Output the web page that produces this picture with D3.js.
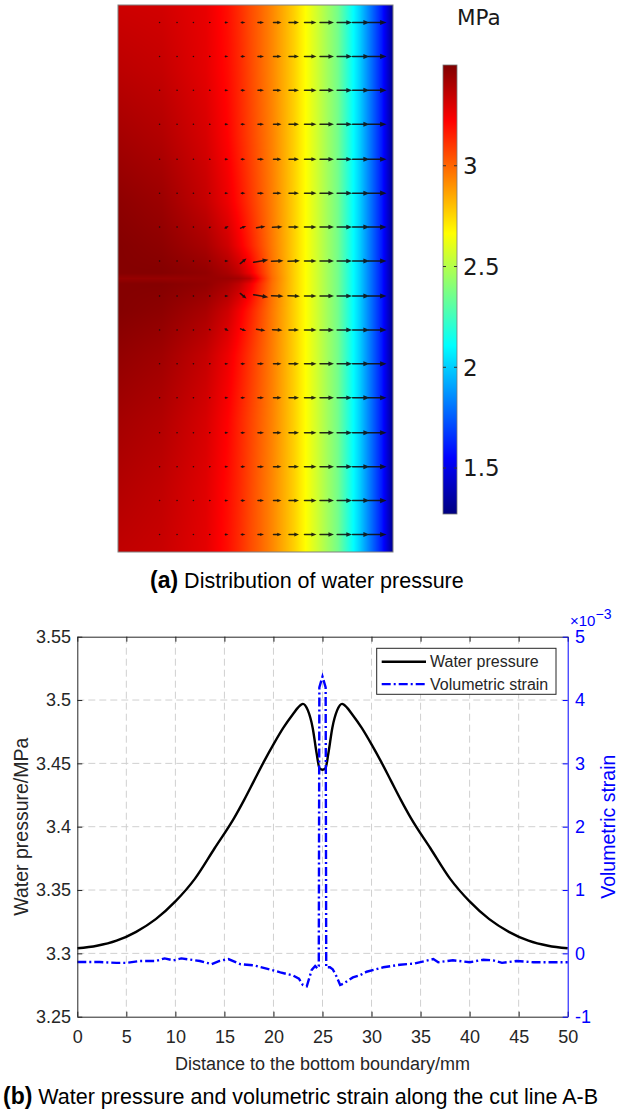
<!DOCTYPE html>
<html>
<head>
<meta charset="utf-8">
<script src="https://cdn.jsdelivr.net/npm/d3@7"></script>
<style>
  body { margin: 0; background: #fff; }
  svg { display: block; }
  text { font-family: "Liberation Sans", Arial, sans-serif; }
</style>
</head>
<body>
<div id="chart"></div>
<script>
// ---------- (a) pressure field, MPa ----------
// columns: mm from the left edge, rows: mm from the top edge
const fieldX = [0, 4, 8, 10, 11, 12, 13, 14, 16, 18, 20, 22, 23, 24, 25];
const fieldY = [0, 6, 12, 18, 22, 24.5, 25, 25.5, 28, 32, 38, 44, 50];
const fieldTail = [2.77, 2.57, 2.36, 2.00, 1.80, 1.60, 1.30];
const fieldP = [
  [3.33, 3.32, 3.27, 3.19, 3.13, 3.06, 3.00, 2.93, ...fieldTail],
  [3.37, 3.35, 3.28, 3.20, 3.14, 3.07, 3.00, 2.93, ...fieldTail],
  [3.42, 3.39, 3.31, 3.22, 3.15, 3.08, 3.01, 2.94, ...fieldTail],
  [3.47, 3.44, 3.35, 3.26, 3.19, 3.11, 3.03, 2.95, ...fieldTail],
  [3.49, 3.47, 3.41, 3.33, 3.25, 3.16, 3.06, 2.96, ...fieldTail],
  [3.49, 3.49, 3.46, 3.41, 3.36, 3.26, 3.12, 2.98, ...fieldTail],
  [3.45, 3.45, 3.45, 3.44, 3.42, 3.36, 3.16, 2.99, ...fieldTail],
  [3.49, 3.49, 3.46, 3.41, 3.36, 3.26, 3.12, 2.98, ...fieldTail],
  [3.49, 3.47, 3.41, 3.33, 3.25, 3.16, 3.06, 2.96, ...fieldTail],
  [3.46, 3.43, 3.35, 3.26, 3.19, 3.11, 3.03, 2.95, ...fieldTail],
  [3.42, 3.39, 3.31, 3.22, 3.15, 3.08, 3.01, 2.94, ...fieldTail],
  [3.39, 3.36, 3.29, 3.20, 3.14, 3.07, 3.00, 2.93, ...fieldTail],
  [3.36, 3.34, 3.28, 3.19, 3.13, 3.06, 3.00, 2.93, ...fieldTail]
];

// flow arrows (mm positions, length in px per column)
const arrowX = [0.8, 2.3, 3.8, 5.4, 6.9, 8.4, 9.9, 11.4, 13.0, 14.5, 16.0, 17.5, 19.0, 20.6, 22.1, 23.6];
const arrowY = [1.6, 4.7, 7.8, 10.9, 14.1, 17.2, 20.3, 23.4, 26.6, 29.7, 32.8, 35.9, 39.1, 42.2, 45.3, 48.4];
const arrowLen = [0, 0, 0.5, 0.8, 1, 1.5, 3, 4, 6, 8, 10, 12, 14, 15, 17, 18];
// [row, col, angle deg, length px] near the crack tip
const arrowBent = [
  [6, 5, 25, 2], [6, 6, 30, 4], [6, 7, 20, 6], [6, 8, 8, 9], [6, 9, 3, 10],
  [7, 7, 40, 8], [7, 8, 10, 15], [7, 9, 3, 12], [7, 10, 2, 12],
  [8, 7, -40, 8], [8, 8, -10, 15], [8, 9, -3, 12], [8, 10, -2, 12],
  [9, 5, -25, 2], [9, 6, -30, 4], [9, 7, -20, 6], [9, 8, -8, 9], [9, 9, -3, 10]
];

// colour bar (jet)
const cbMin = 1.272, cbMax = 3.5;
const cbTicks = [1.5, 2, 2.5, 3];
const jetStops = [0, 0.125, 0.375, 0.625, 0.875, 1];
const jetColors = [[0, 0, 128], [0, 0, 255], [0, 255, 255], [255, 255, 0], [255, 0, 0], [128, 0, 0]];

// ---------- (b) cut line A-B ----------
const distMM = [0, 2, 4, 6, 8, 10, 12, 14, 16, 17, 18, 19, 20, 21, 22, 22.5, 23, 23.5, 24, 24.4, 24.7, 25,
  25.3, 25.6, 26, 26.5, 27, 27.5, 28, 29, 30, 31, 32, 33, 34, 36, 38, 40, 42, 44, 46, 48, 50];
const pressure = [3.304, 3.306, 3.310, 3.317, 3.327, 3.341, 3.359, 3.383, 3.407, 3.421, 3.436, 3.451, 3.465, 3.478, 3.489, 3.494, 3.497, 3.492, 3.478, 3.458, 3.446, 3.445,
  3.446, 3.458, 3.478, 3.492, 3.497, 3.494, 3.489, 3.478, 3.465, 3.451, 3.436, 3.421, 3.407, 3.383, 3.359, 3.341, 3.327, 3.317, 3.310, 3.306, 3.304];

const strainX = [0, 2.3, 4.0, 5.0, 6.4, 8.0, 8.9, 9.8, 10.6, 12.5, 13.7, 14.5, 15.4, 16.6, 18.0, 19.3, 20.7, 22.0, 22.6, 23.0, 23.4, 23.9, 24.25, 24.5, 24.62,
  24.68, 25.0, 25.32, 25.38, 25.76, 26.04, 26.45, 26.8, 27.1, 27.8, 28.1, 28.75, 29.5, 31.2, 32.9, 34.4, 36.3, 36.8, 38.3, 40.0, 41.4, 42.4, 43.3, 44.8, 46.5, 48.5, 50];
const strain = [-0.137, -0.137, -0.15, -0.15, -0.12, -0.12, -0.08, -0.11, -0.08, -0.12, -0.17, -0.12, -0.09, -0.17, -0.19, -0.24, -0.30, -0.35, -0.40, -0.50, -0.52, -0.26, -0.20, -0.24, -0.20,
  4.20, 4.37, 4.20, -0.22, -0.22, -0.25, -0.37, -0.50, -0.48, -0.41, -0.38, -0.35, -0.29, -0.22, -0.18, -0.16, -0.09, -0.14, -0.11, -0.14, -0.10, -0.11, -0.15, -0.12, -0.14, -0.14, -0.14];

const xTicks = [0, 5, 10, 15, 20, 25, 30, 35, 40, 45, 50];
const yTicks = [3.25, 3.3, 3.35, 3.4, 3.45, 3.5, 3.55];
const y2Ticks = [-1, 0, 1, 2, 3, 4, 5];
const seriesNames = ["Water pressure", "Volumetric strain"];

// ---------- page ----------
const W = 623, H = 1113;
const svg = d3.select("#chart").append("svg")
  .attr("width", W)
  .attr("height", H);

svg.append("rect").attr("width", W).attr("height", H).attr("fill", "#fff");

// ===== (a) field =====
const field = { x: 118, y: 5, w: 275, h: 547 };
const fx = d3.scaleLinear([0, 25], [0, field.w]);
const fy = d3.scaleLinear([0, 50], [0, field.h]);

const jet = d3.scaleLinear()
  .domain(jetStops.map(f => cbMin + f * (cbMax - cbMin)))
  .range(jetColors)
  .clamp(true);

const canvas = document.createElement("canvas");
canvas.width = field.w;
canvas.height = field.h;
const ctx = canvas.getContext("2d");
const img = ctx.createImageData(field.w, field.h);
const rowScales = fieldP.map(r => d3.scaleLinear(fieldX, r).clamp(true));
for (let i = 0; i < field.w; i++) {
  const xm = fx.invert(i + 0.5);
  const colScale = d3.scaleLinear(fieldY, rowScales.map(s => s(xm))).clamp(true);
  for (let j = 0; j < field.h; j++) {
    const c = jet(colScale(fy.invert(j + 0.5)));
    const o = (j * field.w + i) * 4;
    img.data[o] = c[0];
    img.data[o + 1] = c[1];
    img.data[o + 2] = c[2];
    img.data[o + 3] = 255;
  }
}
ctx.putImageData(img, 0, 0);

const gField = svg.append("g").attr("transform", `translate(${field.x},${field.y})`);
gField.append("image")
  .attr("width", field.w)
  .attr("height", field.h)
  .attr("preserveAspectRatio", "none")
  .attr("href", canvas.toDataURL());

// arrows
const bent = new Map(arrowBent.map(d => [d[0] + "," + d[1], d]));
const arrows = [];
arrowY.forEach((ym, j) => {
  arrowX.forEach((xm, k) => {
    const b = bent.get(j + "," + k);
    arrows.push({
      cx: fx(xm), cy: fy(ym),
      len: b ? b[3] : arrowLen[k],
      ang: b ? b[2] : 0
    });
  });
});

const gArrows = gField.append("g");
arrows.filter(a => a.len > 0).forEach(a => {
  const r = a.ang * Math.PI / 180;
  const dx = Math.cos(r), dy = -Math.sin(r);
  const tx = a.cx - dx * a.len / 2, ty = a.cy - dy * a.len / 2;
  const hx = a.cx + dx * a.len / 2, hy = a.cy + dy * a.len / 2;
  const hl = Math.min(a.len, 2.5 + 0.22 * a.len);
  const hw = hl * 0.4;
  const bx0 = hx - dx * hl, by0 = hy - dy * hl;

  gArrows.append("line")
    .attr("x1", tx).attr("y1", ty)
    .attr("x2", bx0).attr("y2", by0)
    .attr("stroke", "#111")
    .attr("stroke-width", 1.5)
    .attr("stroke-linecap", "round")
    .attr("opacity", 0.9);

  const p = d3.path();
  p.moveTo(hx, hy);
  p.lineTo(bx0 - dy * hw, by0 + dx * hw);
  p.lineTo(bx0 + dy * hw, by0 - dx * hw);
  p.closePath();
  gArrows.append("path")
    .attr("d", p.toString())
    .attr("fill", "#111")
    .attr("opacity", 0.9);
});

gField.append("rect")
  .attr("width", field.w)
  .attr("height", field.h)
  .attr("fill", "none")
  .attr("stroke", "#808080")
  .attr("stroke-width", 1);

// colour bar
const cb = { x: 443, y: 65, w: 14, h: 449 };
const cy = d3.scaleLinear([cbMin, cbMax], [cb.y + cb.h, cb.y]);
const grad = svg.append("defs").append("linearGradient")
  .attr("id", "jetGrad")
  .attr("x1", 0).attr("y1", 1).attr("x2", 0).attr("y2", 0);
jetStops.forEach((f, i) => {
  grad.append("stop")
    .attr("offset", f)
    .attr("stop-color", d3.rgb(...jetColors[i]).formatHex());
});
svg.append("rect")
  .attr("x", cb.x).attr("y", cb.y)
  .attr("width", cb.w).attr("height", cb.h)
  .attr("fill", "url(#jetGrad)")
  .attr("stroke", "#777")
  .attr("stroke-width", 0.8);

cbTicks.forEach(t => {
  svg.append("line")
    .attr("x1", cb.x).attr("x2", cb.x + 3)
    .attr("y1", cy(t)).attr("y2", cy(t))
    .attr("stroke", "#333");
  svg.append("line")
    .attr("x1", cb.x + cb.w - 3).attr("x2", cb.x + cb.w)
    .attr("y1", cy(t)).attr("y2", cy(t))
    .attr("stroke", "#333");
  svg.append("text")
    .attr("x", cb.x + 20)
    .attr("y", cy(t))
    .attr("dy", "0.36em")
    .style("font-family", "'DejaVu Sans', sans-serif")
    .style("font-size", "23px")
    .attr("fill", "#1a1a1a")
    .text(t);
});

svg.append("text")
  .attr("x", 457).attr("y", 25)
  .style("font-family", "'DejaVu Sans', sans-serif")
  .style("font-size", "21.5px")
  .attr("fill", "#1a1a1a")
  .text("MPa");

// caption (a)
const capA = svg.append("text").attr("x", 150).attr("y", 588).attr("fill", "#000");
capA.append("tspan").style("font-weight", "bold").style("font-size", "23px").text("(a)");
capA.append("tspan").style("font-size", "21.5px").text(" Distribution of water pressure");

// ===== (b) line chart =====
const plot = { left: 77.3, right: 567.7, top: 636.7, bottom: 1016.7 };
const x = d3.scaleLinear([0, 50], [plot.left, plot.right]);
const y = d3.scaleLinear([3.25, 3.55], [plot.bottom, plot.top]);
const y2 = d3.scaleLinear([-1, 5], [plot.bottom, plot.top]);
const axisColor = "#262626";
const blue = "#0000ff";

// grid
const grid = svg.append("g")
  .attr("stroke", "#d0d0d0")
  .attr("stroke-width", 1)
  .attr("stroke-dasharray", "7,4");
grid.selectAll(".gx")
  .data(xTicks.slice(1, -1))
  .join("line")
  .attr("x1", d => x(d)).attr("x2", d => x(d))
  .attr("y1", plot.top).attr("y2", plot.bottom);
grid.selectAll(".gy")
  .data(yTicks.slice(1, -1))
  .join("line")
  .attr("y1", d => y(d)).attr("y2", d => y(d))
  .attr("x1", plot.left).attr("x2", plot.right);

// curves
svg.append("path")
  .datum(distMM.map((d, i) => [d, pressure[i]]))
  .attr("fill", "none")
  .attr("stroke", "#000")
  .attr("stroke-width", 2.4)
  .attr("d", d3.line().x(d => x(d[0])).y(d => y(d[1])).curve(d3.curveMonotoneX));

svg.append("path")
  .datum(strainX.map((d, i) => [d, strain[i]]))
  .attr("fill", "none")
  .attr("stroke", blue)
  .attr("stroke-width", 2.4)
  .attr("stroke-dasharray", "9,3,2,3")
  .attr("d", d3.line().x(d => x(d[0])).y(d => y2(d[1])));

// axes
const fmt = d => String(d);
const gxB = svg.append("g")
  .attr("transform", `translate(0,${plot.bottom})`)
  .call(d3.axisBottom(x).tickValues(xTicks).tickFormat(fmt).tickSizeInner(-5).tickSizeOuter(0).tickPadding(13.5));
const gxT = svg.append("g")
  .attr("transform", `translate(0,${plot.top})`)
  .call(d3.axisTop(x).tickValues(xTicks).tickFormat("").tickSizeInner(-5).tickSizeOuter(0));
const gyL = svg.append("g")
  .attr("transform", `translate(${plot.left},0)`)
  .call(d3.axisLeft(y).tickValues(yTicks).tickFormat(fmt).tickSizeInner(-5).tickSizeOuter(0).tickPadding(6.3));
const gyR = svg.append("g")
  .attr("transform", `translate(${plot.right},0)`)
  .call(d3.axisRight(y2).tickValues(y2Ticks).tickFormat(fmt).tickSizeInner(-5).tickSizeOuter(0).tickPadding(7.3));

[gxB, gxT, gyL].forEach(g => {
  g.select(".domain").attr("stroke", axisColor);
  g.selectAll(".tick line").attr("stroke", axisColor);
  g.selectAll(".tick text")
    .attr("fill", axisColor)
    .style("font-family", "'Liberation Sans', Arial, sans-serif")
    .style("font-size", "18px");
});
gyR.select(".domain").attr("stroke", blue);
gyR.selectAll(".tick line").attr("stroke", blue);
gyR.selectAll(".tick text")
  .attr("fill", blue)
  .style("font-family", "'Liberation Sans', Arial, sans-serif")
  .style("font-size", "18px");

// exponent label
const expo = svg.append("text")
  .attr("x", 570).attr("y", 626)
  .attr("fill", blue)
  .style("font-size", "15px");
expo.append("tspan").text("\u00d710");
expo.append("tspan").attr("dy", -7).style("font-size", "14px").text("\u22123");

// axis labels
svg.append("text")
  .attr("transform", `translate(28,${(plot.top + plot.bottom) / 2}) rotate(-90)`)
  .attr("text-anchor", "middle")
  .attr("fill", axisColor)
  .style("font-size", "19.5px")
  .text("Water pressure/MPa");

svg.append("text")
  .attr("transform", `translate(615,${(plot.top + plot.bottom) / 2}) rotate(-90)`)
  .attr("text-anchor", "middle")
  .attr("fill", blue)
  .style("font-size", "19.5px")
  .text("Volumetric strain");

svg.append("text")
  .attr("x", (plot.left + plot.right) / 2)
  .attr("y", 1070)
  .attr("text-anchor", "middle")
  .attr("fill", axisColor)
  .style("font-size", "18px")
  .text("Distance to the bottom boundary/mm");

// legend
const lg = svg.append("g").attr("transform", "translate(376.7,648.3)");
lg.append("rect")
  .attr("width", 179.3).attr("height", 46)
  .attr("fill", "#fff")
  .attr("stroke", axisColor)
  .attr("stroke-width", 1);
seriesNames.forEach((name, i) => {
  const ly = 13.4 + i * 22.4;
  lg.append("line")
    .attr("x1", 5).attr("x2", 49.3)
    .attr("y1", ly).attr("y2", ly)
    .attr("stroke", i === 0 ? "#000" : blue)
    .attr("stroke-width", 2.4)
    .attr("stroke-dasharray", i === 0 ? null : "9,3,2,3");
  lg.append("text")
    .attr("x", 53.3).attr("y", ly)
    .attr("dy", "0.35em")
    .attr("fill", axisColor)
    .style("font-size", "16px")
    .text(name);
});

// caption (b)
const capB = svg.append("text").attr("x", 3).attr("y", 1104).attr("fill", "#000");
capB.append("tspan").style("font-weight", "bold").style("font-size", "23px").text("(b)");
capB.append("tspan").style("font-size", "21.5px").text(" Water pressure and volumetric strain along the cut line A-B");
</script>
</body>
</html>
